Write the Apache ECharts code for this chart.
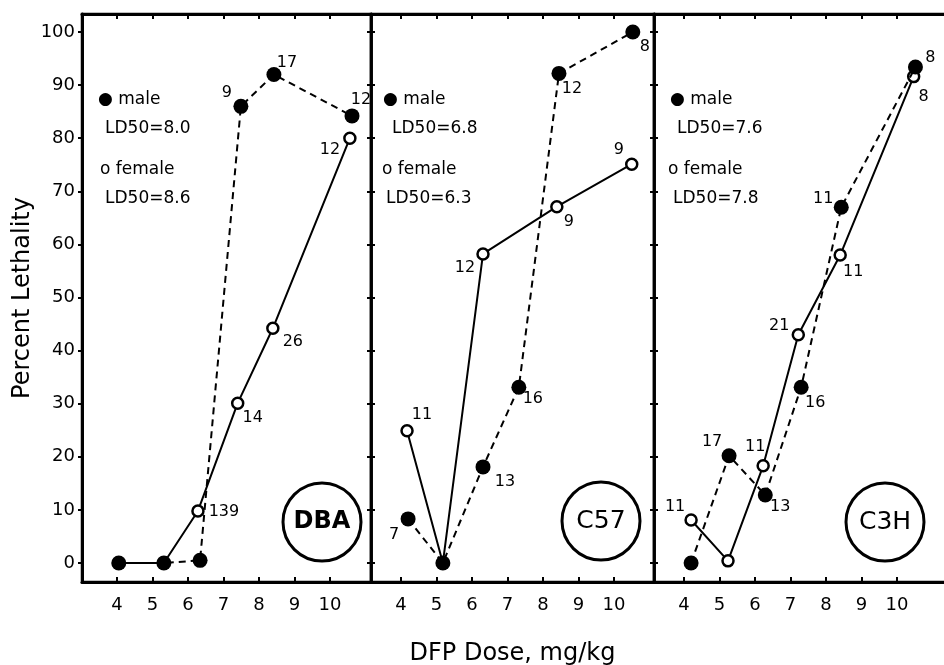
<!DOCTYPE html>
<html>
<head>
<meta charset="utf-8">
<script src="https://cdn.jsdelivr.net/npm/echarts@6/dist/echarts.min.js"></script>
<style>
html,body{margin:0;padding:0;background:#fff;}
#chart{width:944px;height:665px;}
</style>
</head>
<body>
<div id="chart"></div>
<script>
// ---- data ----
const strains = ['DBA', 'C57', 'C3H'];
const ld50Male = ['8.0', '6.8', '7.6'];
const ld50Female = ['8.6', '6.3', '7.8'];
const xTickValues = [4, 5, 6, 7, 8, 9, 10];
const yTickValues = [0, 10, 20, 30, 40, 50, 60, 70, 80, 90, 100];

const dbaMaleDose = [4.05, 5.32, 6.34, 7.49, 8.42, 10.62];
const dbaMalePct = [0, 0, 0.5, 86, 92, 84.2];
const dbaMaleN = ['', '', '', '9', '17', '12'];
const dbaFemaleDose = [4.05, 5.32, 6.28, 7.4, 8.39, 10.56];
const dbaFemalePct = [0, 0, 9.8, 30.1, 44.2, 80];
const dbaFemaleN = ['', '', '139', '14', '26', '12'];

const c57MaleDose = [4.2, 5.18, 6.31, 7.32, 8.45, 10.53];
const c57MalePct = [8.3, 0, 18.1, 33.1, 92.2, 100];
const c57MaleN = ['7', '', '13', '16', '12', '8'];
const c57FemaleDose = [4.17, 5.18, 6.31, 8.39, 10.5];
const c57FemalePct = [24.9, 0, 58.2, 67.1, 75.1];
const c57FemaleN = ['11', '', '12', '9', '9'];

const c3hMaleDose = [4.2, 5.27, 6.29, 7.3, 8.43, 10.52];
const c3hMalePct = [0, 20.2, 12.8, 33.1, 67, 93.4];
const c3hMaleN = ['', '17', '13', '16', '11', '8'];
const c3hFemaleDose = [4.2, 5.24, 6.23, 7.22, 8.4, 10.47];
const c3hFemalePct = [8.1, 0.4, 18.3, 43, 58, 91.6];
const c3hFemaleN = ['11', '', '11', '21', '11', '8'];

// ---- label placement (style, not data) ----
const dbaMaleOff = [null, null, null, [-14, -13], [13, -12], [9, -16]];
const dbaFemaleOff = [null, null, [26, 1], [15, 15], [20, 14], [-20, 12]];
const c57MaleOff = [[-14, 16], null, [22, 15], [14, 12], [13, 15], [12, 15]];
const c57FemaleOff = [[15, -16], null, [-18, 14], [12, 15], [-13, -14]];
const c3hMaleOff = [null, [-17, -14], [15, 12], [14, 16], [-18, -8], [15, -9]];
const c3hFemaleOff = [[-16, -13], null, [-8, -19], [-19, -9], [13, 17], [10, 20]];

const FONT = 'DejaVu Sans';

const grids = [
  {left: 82, top: 14, width: 289, height: 568},
  {left: 371, top: 14, width: 283, height: 568},
  {left: 654, top: 14, width: 300, height: 568}
];
const xRanges = [[3.014, 11.155], [3.155, 11.127], [3.155, 11.606]];

const xAxes = [];
grids.forEach((g, i) => {
  xAxes.push({
    gridIndex: i, type: 'value', position: 'bottom',
    min: xRanges[i][0], max: xRanges[i][1],
    splitLine: {show: false},
    axisLine: {show: true, onZero: false, lineStyle: {color: '#000', width: 3}},
    axisTick: {show: true, inside: true, length: 5, customValues: xTickValues, lineStyle: {color: '#000', width: 2}},
    axisLabel: {show: true, customValues: xTickValues, margin: 14, color: '#000', fontFamily: FONT, fontSize: 18},
    name: i === 1 ? 'DFP Dose, mg/kg' : '',
    nameLocation: 'middle', nameGap: 60,
    nameTextStyle: {color: '#000', fontFamily: FONT, fontSize: 24}
  });
});
grids.forEach((g, i) => {
  xAxes.push({
    gridIndex: i, type: 'value', position: 'top',
    min: xRanges[i][0], max: xRanges[i][1],
    splitLine: {show: false},
    axisLine: {show: true, onZero: false, lineStyle: {color: '#000', width: 3}},
    axisTick: {show: true, inside: true, length: 5, customValues: xTickValues, lineStyle: {color: '#000', width: 2}},
    axisLabel: {show: false}
  });
});

const yBase = {
  type: 'value', min: -3.58, max: 103.39,
  splitLine: {show: false}
};
const yAxes = [
  Object.assign({}, yBase, {
    gridIndex: 0, position: 'left',
    axisLine: {show: true, onZero: false, lineStyle: {color: '#000', width: 3}},
    axisTick: {show: true, inside: false, length: 4, customValues: yTickValues, lineStyle: {color: '#000', width: 2}},
    axisLabel: {show: true, customValues: yTickValues, margin: 7, color: '#000', fontFamily: FONT, fontSize: 18},
    name: 'Percent Lethality', nameLocation: 'middle', nameGap: 47, nameRotate: 90,
    nameTextStyle: {color: '#000', fontFamily: FONT, fontSize: 24}
  }),
  Object.assign({}, yBase, {
    gridIndex: 1, position: 'left',
    axisLine: {show: true, onZero: false, lineStyle: {color: '#000', width: 2.5}},
    axisTick: {show: true, inside: false, length: 4, customValues: yTickValues, lineStyle: {color: '#000', width: 2}},
    axisLabel: {show: false}
  }),
  Object.assign({}, yBase, {
    gridIndex: 2, position: 'left',
    axisLine: {show: true, onZero: false, lineStyle: {color: '#000', width: 2.5}},
    axisTick: {show: true, inside: false, length: 4, customValues: yTickValues, lineStyle: {color: '#000', width: 2}},
    axisLabel: {show: false}
  }),
  Object.assign({}, yBase, {
    gridIndex: 0, position: 'right',
    axisLine: {show: true, onZero: false, lineStyle: {color: '#000', width: 2.5}},
    axisTick: {show: true, inside: false, length: 4, customValues: yTickValues, lineStyle: {color: '#000', width: 2}},
    axisLabel: {show: false}
  }),
  Object.assign({}, yBase, {
    gridIndex: 1, position: 'right',
    axisLine: {show: true, onZero: false, lineStyle: {color: '#000', width: 2.5}},
    axisTick: {show: true, inside: false, length: 4, customValues: yTickValues, lineStyle: {color: '#000', width: 2}},
    axisLabel: {show: false}
  })
];

function makeSeries(name, panel, dose, pct, nLabels, offsets, male) {
  return {
    name: name, type: 'line',
    xAxisIndex: panel, yAxisIndex: panel,
    symbol: 'circle',
    symbolSize: male ? 15 : 11,
    showAllSymbol: true,
    lineStyle: {color: '#000', width: 2, type: male ? [7, 5] : 'solid'},
    itemStyle: male ? {color: '#000', borderColor: '#000', borderWidth: 0}
                    : {color: '#fff', borderColor: '#000', borderWidth: 2.5},
    emphasis: {disabled: true},
    z: male ? 4 : 3,
    data: dose.map((d, i) => ({
      value: [d, pct[i]],
      label: {
        show: nLabels[i] !== '',
        formatter: nLabels[i],
        position: 'inside',
        offset: offsets[i] || [0, 0],
        color: '#000', fontFamily: FONT, fontSize: 16
      }
    }))
  };
}

const series = [
  makeSeries('DBA female', 0, dbaFemaleDose, dbaFemalePct, dbaFemaleN, dbaFemaleOff, false),
  makeSeries('DBA male', 0, dbaMaleDose, dbaMalePct, dbaMaleN, dbaMaleOff, true),
  makeSeries('C57 female', 1, c57FemaleDose, c57FemalePct, c57FemaleN, c57FemaleOff, false),
  makeSeries('C57 male', 1, c57MaleDose, c57MalePct, c57MaleN, c57MaleOff, true),
  makeSeries('C3H female', 2, c3hFemaleDose, c3hFemalePct, c3hFemaleN, c3hFemaleOff, false),
  makeSeries('C3H male', 2, c3hMaleDose, c3hMalePct, c3hMaleN, c3hMaleOff, true)
];

// ---- annotations (legend blocks and strain circles) ----
const legendX = [[98, 105, 100, 105], [383, 392, 382, 386], [670, 677, 668, 673]];
const legendY = [100, 129, 170, 199];
const circleCenters = [[322, 522], [601, 521], [885, 522]];
const graphic = [];
strains.forEach((s, i) => {
  const lines = ['\u25CF male', 'LD50=' + ld50Male[i], 'o female', 'LD50=' + ld50Female[i]];
  lines.forEach((t, k) => {
    graphic.push({
      type: 'text', x: legendX[i][k], y: legendY[k], z: 10,
      style: {text: t, fill: '#000', font: '17px "' + FONT + '"', align: 'left', verticalAlign: 'middle'}
    });
  });
  graphic.push({
    type: 'circle', z: 10,
    shape: {cx: circleCenters[i][0], cy: circleCenters[i][1], r: 39},
    style: {fill: 'none', stroke: '#000', lineWidth: 3}
  });
  graphic.push({
    type: 'text', x: circleCenters[i][0], y: circleCenters[i][1], z: 10,
    style: {text: s, fill: '#000',
      font: (i === 0 ? 'bold 24px' : '25px') + ' "' + FONT + '"',
      align: 'center', verticalAlign: 'middle'}
  });
});

const chart = echarts.init(document.getElementById('chart'), null, {renderer: 'canvas'});
chart.setOption({
  animation: false,
  backgroundColor: '#fff',
  grid: grids.map(g => Object.assign({show: true, borderColor: '#000', borderWidth: 2.5,
    backgroundColor: 'transparent', outerBoundsMode: 'none', containLabel: false}, g)),
  xAxis: xAxes,
  yAxis: yAxes,
  series: series,
  graphic: graphic
});
</script>
</body>
</html>
